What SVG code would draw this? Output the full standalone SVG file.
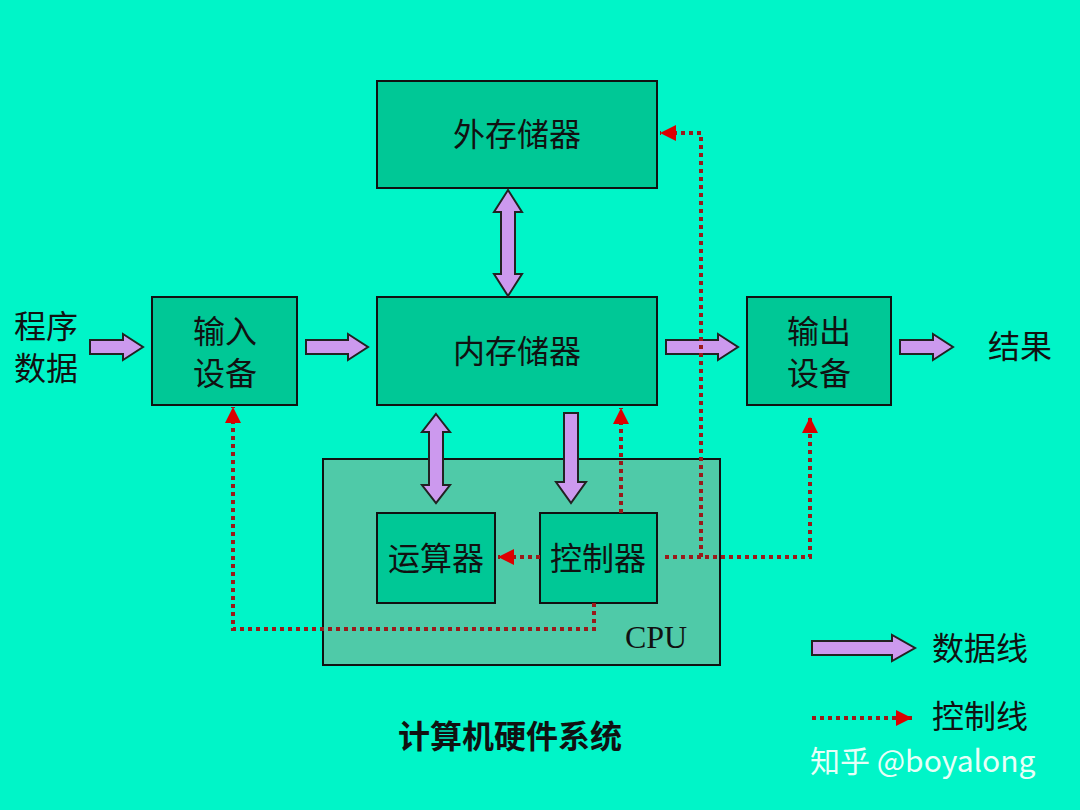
<svg xmlns="http://www.w3.org/2000/svg" width="1080" height="810" viewBox="0 0 1080 810">
<style>
.box{fill:#00c896;stroke:#111;stroke-width:2}
.t{font-family:"Liberation Serif","Noto Sans CJK SC",serif;font-size:32px;fill:#111;text-anchor:middle}
.ba{fill:#cc99ee;stroke:#222;stroke-width:2;stroke-linejoin:miter}
.dl{fill:none;stroke:#9a1a1a;stroke-width:4;stroke-dasharray:4 4}
</style>
<defs>
<marker id="rh" viewBox="0 0 10 10" refX="10" refY="5" markerWidth="4" markerHeight="4" orient="auto" markerUnits="strokeWidth"><path d="M0,0L10,5L0,10z" fill="#dd0000"/></marker>
</defs>
<rect width="1080" height="810" fill="#00f5c8"/>
<g id="cpu"><rect x="323" y="459" width="397" height="206" fill="#4fcaa8" stroke="#111" stroke-width="2"/><text class="t" x="656" y="648" font-size="30">CPU</text></g>
<g id="ext"><rect class="box" x="377" y="81" width="280" height="107"/><text class="t" x="517" y="146">外存储器</text></g>
<g id="mem"><rect class="box" x="377" y="297" width="280" height="108"/><text class="t" x="517" y="363">内存储器</text></g>
<g id="in"><rect class="box" x="152" y="297" width="145" height="108"/><text class="t" x="225" y="343">输入</text><text class="t" x="225" y="385">设备</text></g>
<g id="out"><rect class="box" x="747" y="297" width="144" height="108"/><text class="t" x="819" y="343">输出</text><text class="t" x="819" y="385">设备</text></g>
<g id="alu"><rect class="box" x="377" y="513" width="118" height="90"/><text class="t" x="436" y="570">运算器</text></g>
<g id="ctl"><rect class="box" x="540" y="513" width="117" height="90"/><text class="t" x="598" y="570">控制器</text></g>
<g id="labels">
<text class="t" x="46" y="338" font-size="30">程序</text><text class="t" x="46" y="380" font-size="30">数据</text>
<text class="t" x="1020" y="358" font-size="30">结果</text>
<text class="t" x="980" y="660" font-size="30">数据线</text>
<text class="t" x="980" y="728" font-size="30">控制线</text>
<text class="t" x="510" y="748" font-weight="bold" font-size="32">计算机硬件系统</text>
<text x="810" y="772" font-family="'Noto Sans CJK SC','Noto Sans',sans-serif" font-size="30" fill="#e8fff8">知乎 @boyalong</text>
</g>
<g id="connectors">
<path class="ba" d="M90,340H123V334L143,347L123,360V354H90Z"/>
<path class="ba" d="M306,340H348V334L368,347L348,360V354H306Z"/>
<path class="ba" d="M666,340H718V334L738,347L718,360V354H666Z"/>
<path class="ba" d="M900,340H933V334L953,347L933,360V354H900Z"/>
<path class="ba" d="M812,641H892V635L915,648L892,661V655H812Z"/>
<path class="ba" d="M508,190L522,212H515V274H522L508,296L494,274H501V212H494Z"/>
<path class="ba" d="M436,414L450,432H443V485H450L436,503L422,485H429V432H422Z"/>
<path class="ba" d="M564,413H578V482H586L571,503L556,482H564Z"/>
<path class="dl" d="M621,513V408" marker-end="url(#rh)"/>
<path class="dl" d="M540,557H498" marker-end="url(#rh)"/>
<path class="dl" d="M665,557H810V417" marker-end="url(#rh)"/>
<path class="dl" d="M701,557V133H660" marker-end="url(#rh)"/>
<path class="dl" d="M594,603V629H233V407" marker-end="url(#rh)"/>
<path class="dl" d="M812,718H912" marker-end="url(#rh)"/>
</g>
</svg>
